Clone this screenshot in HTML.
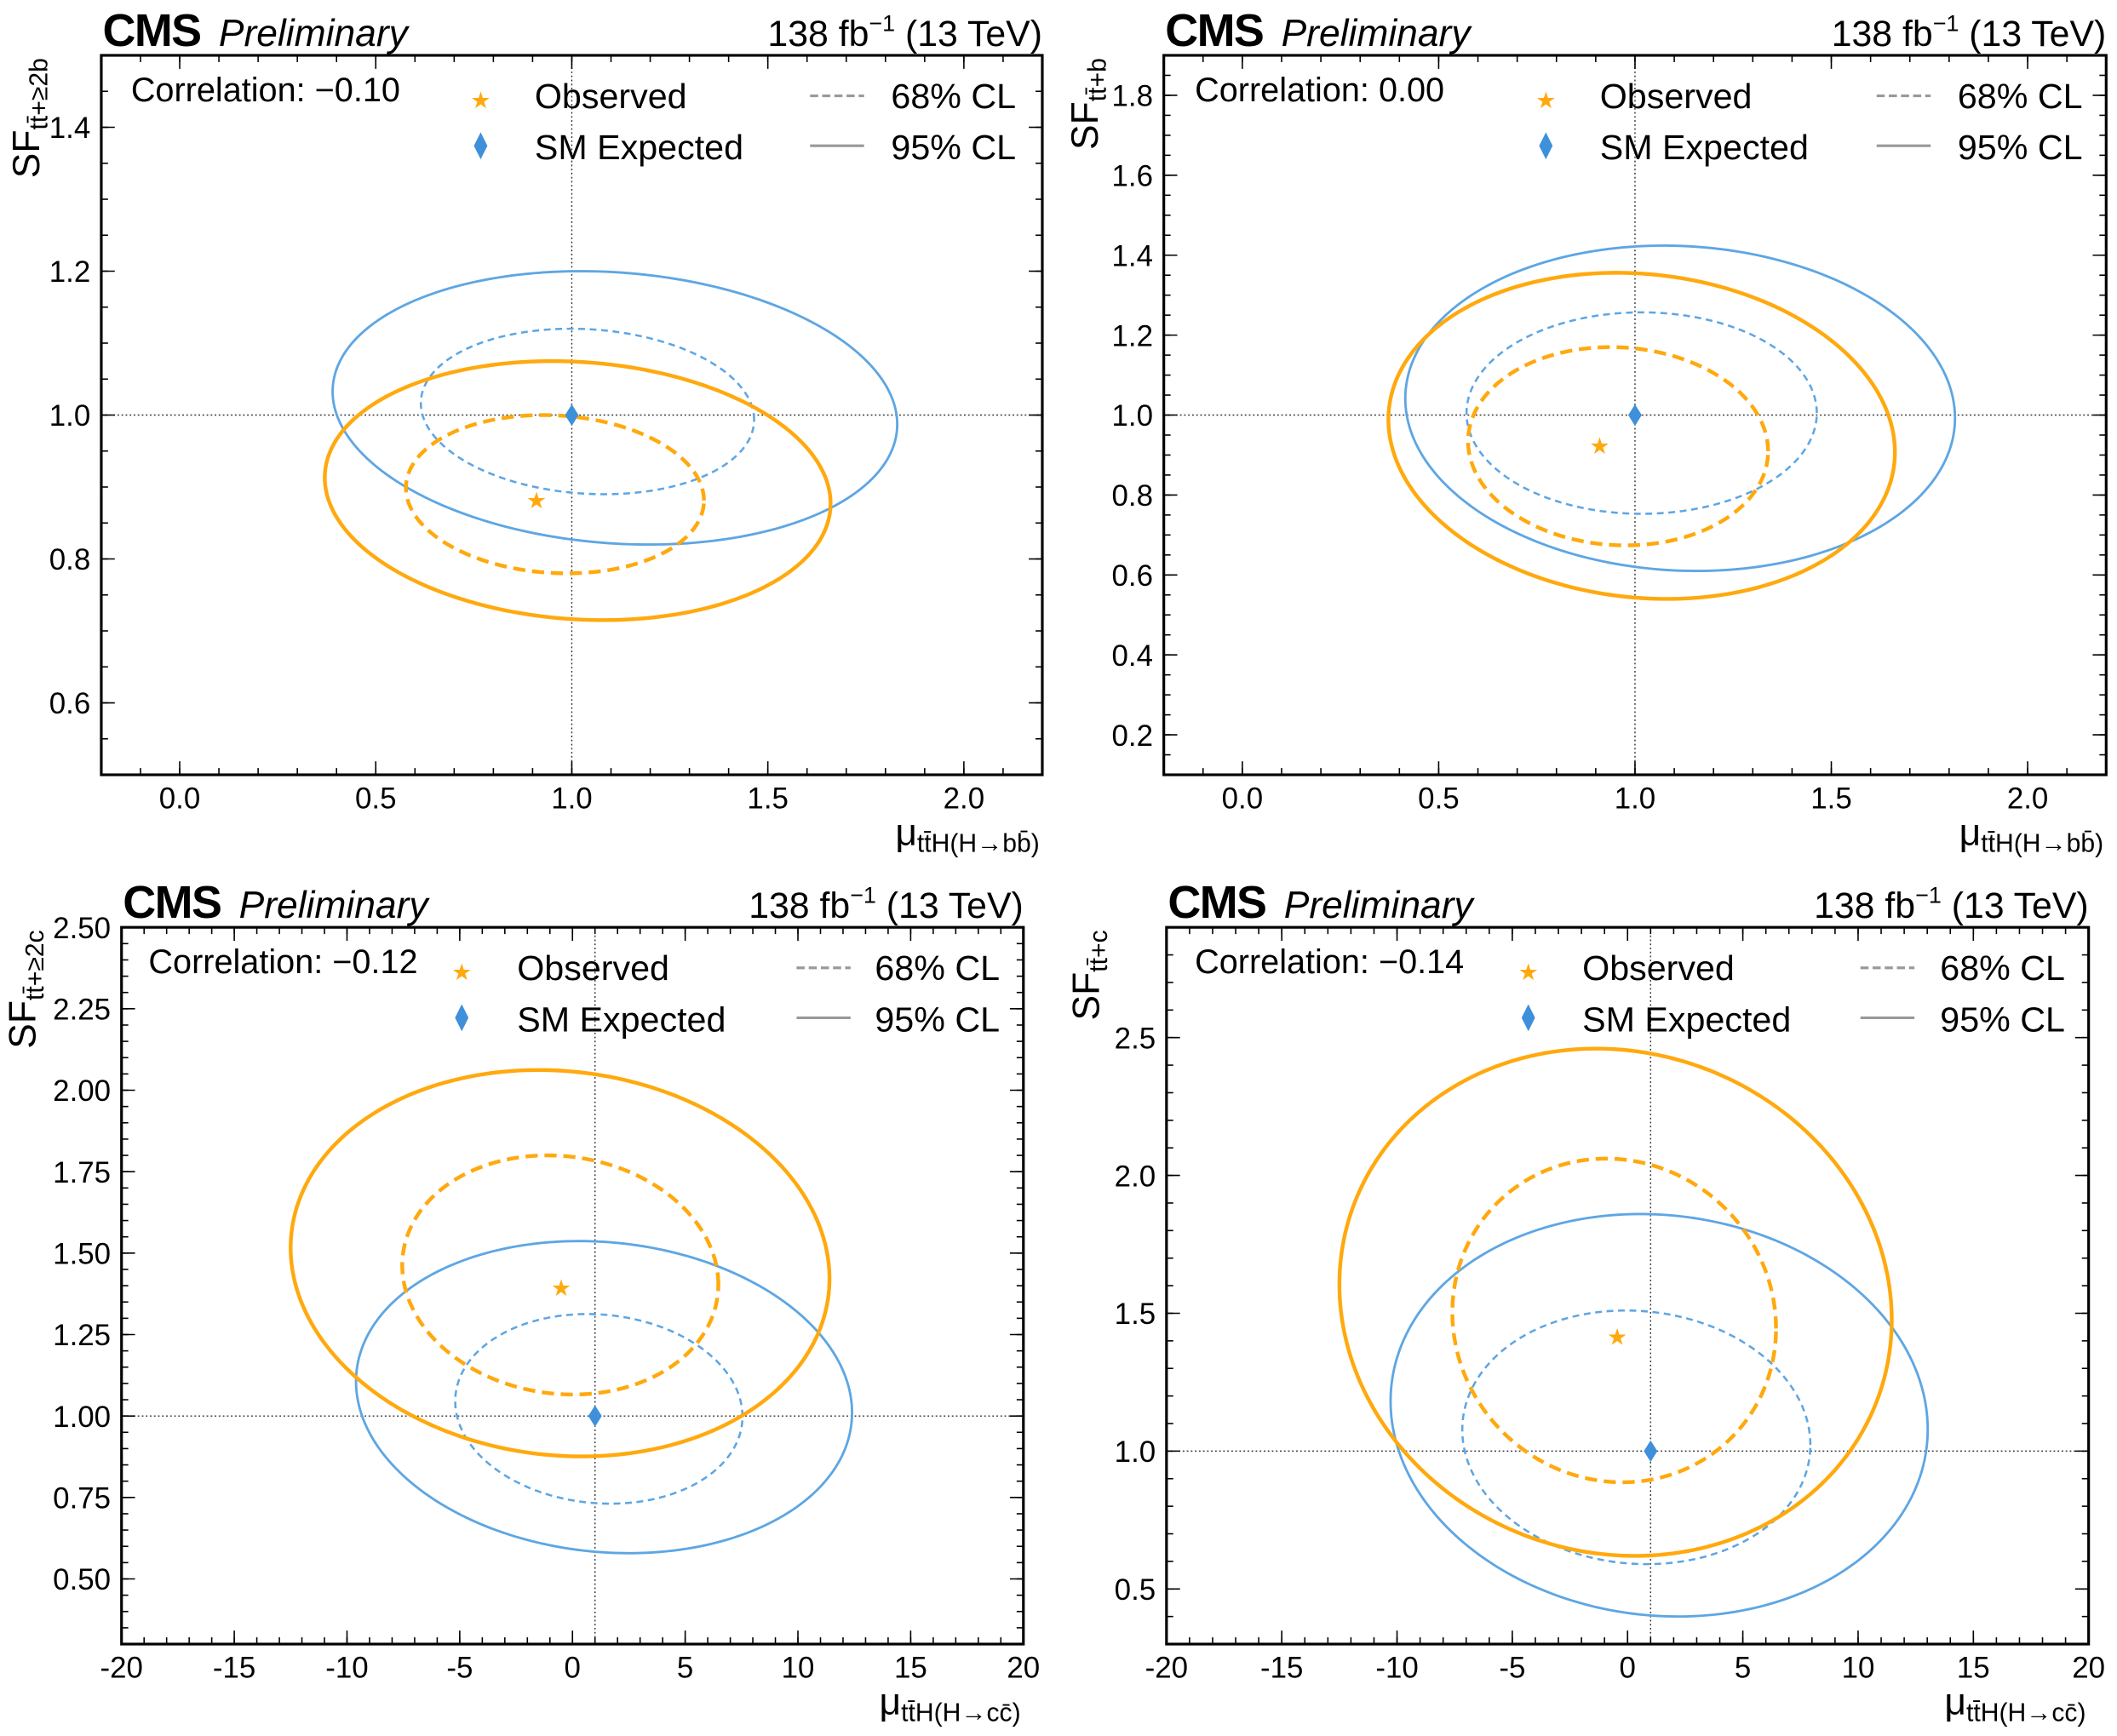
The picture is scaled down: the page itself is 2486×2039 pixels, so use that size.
<!DOCTYPE html>
<html><head><meta charset="utf-8"><style>
html,body{margin:0;padding:0;background:#fff}
svg{display:block}
text{font-family:"Liberation Sans",Arial,sans-serif;fill:#000}
</style></head><body>
<svg id="fig" width="2486" height="2039" viewBox="0 0 1568 1286.1" xmlns="http://www.w3.org/2000/svg"></svg>
<script>
// ---- data ----
const panelCorrelations = ["-0.10", "0.00", "-0.12", "-0.14"];
const panelYLabelSub = ["tt\u0304+\u22652b", "tt\u0304+b", "tt\u0304+\u22652c", "tt\u0304+c"];
const panelXLabelSub = ["tt\u0304H(H\u2192bb\u0304)", "tt\u0304H(H\u2192bb\u0304)", "tt\u0304H(H\u2192cc\u0304)", "tt\u0304H(H\u2192cc\u0304)"];
const xRanges = [[-0.2, 2.2], [-0.2, 2.2], [-20, 20], [-20, 20]];
const yRanges = [[0.5, 1.5], [0.1, 1.9], [0.3, 2.5], [0.3, 2.9]];
const xMajorTicks = [[0, 0.5, 1, 1.5, 2], [0, 0.5, 1, 1.5, 2], [-20, -15, -10, -5, 0, 5, 10, 15, 20], [-20, -15, -10, -5, 0, 5, 10, 15, 20]];
const xTickLabels = [["0.0", "0.5", "1.0", "1.5", "2.0"], ["0.0", "0.5", "1.0", "1.5", "2.0"], ["-20", "-15", "-10", "-5", "0", "5", "10", "15", "20"], ["-20", "-15", "-10", "-5", "0", "5", "10", "15", "20"]];
const xMinorStep = [0.1, 0.1, 1, 1];
const yMajorTicks = [[0.6, 0.8, 1.0, 1.2, 1.4], [0.2, 0.4, 0.6, 0.8, 1.0, 1.2, 1.4, 1.6, 1.8], [0.5, 0.75, 1.0, 1.25, 1.5, 1.75, 2.0, 2.25, 2.5], [0.5, 1.0, 1.5, 2.0, 2.5]];
const yTickLabels = [["0.6", "0.8", "1.0", "1.2", "1.4"], ["0.2", "0.4", "0.6", "0.8", "1.0", "1.2", "1.4", "1.6", "1.8"], ["0.50", "0.75", "1.00", "1.25", "1.50", "1.75", "2.00", "2.25", "2.50"], ["0.5", "1.0", "1.5", "2.0", "2.5"]];
const yMinorStep = [0.05, 0.05, 0.05, 0.1];
// contour ellipses: [cx, cy, ax, ay, rho] in data units
const obs95 = [[1.015, 0.895, 0.645, 0.18, -0.1], [1.017, 0.948, 0.645, 0.408, -0.1], [-0.55, 1.469, 11.95, 0.593, -0.08], [-0.52, 1.54, 11.98, 0.92, -0.07]];
const obs68 = [[0.957, 0.89, 0.38, 0.11, -0.08], [0.957, 0.922, 0.382, 0.248, -0.05], [-0.54, 1.433, 7.01, 0.367, -0.08], [-0.58, 1.474, 7.02, 0.587, -0.05]];
const exp95 = [[1.11, 1.01, 0.72, 0.19, -0.12], [1.115, 1.017, 0.70, 0.407, -0.06], [1.4, 1.058, 11.0, 0.479, -0.1], [1.37, 1.13, 11.65, 0.73, -0.07]];
const exp68 = [[1.04, 1.005, 0.425, 0.115, -0.1], [1.017, 1.005, 0.446, 0.252, 0.0], [1.17, 1.022, 6.37, 0.291, -0.08], [0.38, 1.05, 7.55, 0.46, -0.06]];
const observedPoints = [[0.91, 0.88], [0.91, 0.92], [-0.5, 1.39], [-0.45, 1.41]];
const expectedPoints = [[1, 1], [1, 1], [1, 1], [1, 1]];

// ---- layout (display units) ----
const frames = [{l:75,r:772,t:41,b:574},{l:862,r:1560,t:41,b:574},{l:90,r:758,t:687,b:1218},{l:864,r:1547,t:687,b:1218}];
const yTitleOff = [46, 49, 64, 50];
const legendX = [{corr:97,star:356,txt:396,line:600,cl:660},{corr:885,star:1145,txt:1185,line:1390,cl:1450},{corr:110,star:342,txt:383,line:590,cl:648},{corr:885,star:1132,txt:1172,line:1378,cl:1437}];
const ORANGE="#ffa90e", BLUE="#5ea6e3", DBLUE="#3f90da";
const NS="http://www.w3.org/2000/svg";
const svg=document.getElementById('fig');
function mk(tag,attrs,parent){const e=document.createElementNS(NS,tag);for(const k in attrs)e.setAttribute(k,attrs[k]);(parent||svg).appendChild(e);return e;}

frames.forEach((f,i)=>{
  const g=mk('g',{});
  
  
  const [x0,x1]=xRanges[i],[y0,y1]=yRanges[i];
  const X=v=>f.l+(v-x0)/(x1-x0)*(f.r-f.l);
  const Y=v=>f.b-(v-y0)/(y1-y0)*(f.b-f.t);
  const cp=mk('clipPath',{id:'clip'+i},g);mk('rect',{x:f.l,y:f.t,width:f.r-f.l,height:f.b-f.t},cp);
  const rl=mk('g',{'clip-path':'url(#clip'+i+')'},g);
  const vline=mk('line',{x1:X(1),x2:X(1),y1:f.t,y2:f.b,stroke:'#333','stroke-width':0.9,'stroke-dasharray':'1.2,1.8'},rl);
  
  
  const hline=mk('line',{x1:f.l,x2:f.r,y1:Y(1),y2:Y(1),stroke:'#333','stroke-width':0.9,'stroke-dasharray':'1.2,1.8'},rl);
  
  
  function contour(p,color,w,dash,name){
    const [cx,cy,ax,ay,rho]=p;let d='';
    for(let k=0;k<=240;k++){const t=k/240*2*Math.PI;
      const xv=cx+ax*Math.cos(t), yv=cy+ay*(rho*Math.cos(t)+Math.sqrt(1-rho*rho)*Math.sin(t));
      d+=(k?'L':'M')+X(xv).toFixed(2)+','+Y(yv).toFixed(2);}
    const a={d:d+'Z',fill:'none',stroke:color,'stroke-width':w};if(dash)a['stroke-dasharray']=dash;
    const e=mk('path',a,rl);
    
    
  }
  contour(exp95[i],BLUE,1.8,null,'expected-95-contour');
  contour(exp68[i],BLUE,1.6,'5,3.5','expected-68-contour');
  contour(obs95[i],ORANGE,2.8,null,'observed-95-contour');
  contour(obs68[i],ORANGE,2.8,'9,5','observed-68-contour');
  const [ox,oy]=observedPoints[i];
  const star=mk('text',{x:X(ox),y:Y(oy)+5,'font-size':17,'text-anchor':'middle',style:'fill:'+ORANGE},g);star.textContent='\u2605';
  
  
  const [ex,ey]=expectedPoints[i];
  const dm=mk('path',{d:`M${X(ex)},${Y(ey)-8}L${X(ex)+5},${Y(ey)}L${X(ex)},${Y(ey)+8}L${X(ex)-5},${Y(ey)}Z`,fill:DBLUE},g);
  
  
  const fr=mk('rect',{x:f.l,y:f.t,width:f.r-f.l,height:f.b-f.t,fill:'none',stroke:'#000','stroke-width':2},g);
  
  
  const tk=mk('g',{stroke:'#000','stroke-width':1},g);
  for(let v=Math.ceil(x0/xMinorStep[i]-1e-6)*xMinorStep[i];v<=x1+1e-9;v+=xMinorStep[i]){const px=X(v);
    mk('line',{x1:px,x2:px,y1:f.b,y2:f.b-5},tk);mk('line',{x1:px,x2:px,y1:f.t,y2:f.t+5},tk);}
  for(let v=Math.ceil(y0/yMinorStep[i]-1e-6)*yMinorStep[i];v<=y1+1e-9;v+=yMinorStep[i]){const py=Y(v);
    mk('line',{x1:f.l,x2:f.l+5,y1:py,y2:py},tk);mk('line',{x1:f.r,x2:f.r-5,y1:py,y2:py},tk);}
  xMajorTicks[i].forEach((v,j)=>{const px=X(v);
    mk('line',{x1:px,x2:px,y1:f.b,y2:f.b-10},tk);mk('line',{x1:px,x2:px,y1:f.t,y2:f.t+10},tk);
    const t=mk('text',{x:px,y:f.b+25,'font-size':22,'text-anchor':'middle'},g);t.textContent=xTickLabels[i][j];
    
    });
  yMajorTicks[i].forEach((v,j)=>{const py=Y(v);
    mk('line',{x1:f.l,x2:f.l+10,y1:py,y2:py},tk);mk('line',{x1:f.r,x2:f.r-10,y1:py,y2:py},tk);
    const t=mk('text',{x:f.l-8,y:py+8,'font-size':22,'text-anchor':'end'},g);t.textContent=yTickLabels[i][j];
    
    });
  const cms=mk('text',{x:f.l+1,y:f.t-7,'font-size':34,'font-weight':'bold','letter-spacing':'-1'},g);cms.textContent='CMS';
  
  
  const pre=mk('text',{x:f.l+87,y:f.t-7,'font-size':28,'font-style':'italic'},g);pre.textContent='Preliminary';
  
  
  const lumi=mk('text',{x:f.r,y:f.t-7,'font-size':27,'text-anchor':'end'},g);
  lumi.innerHTML='138 fb<tspan dy="-11" font-size="17">\u22121</tspan><tspan dy="11"> (13 TeV)</tspan>';
  
  
  const xt=mk('text',{x:f.r-2,y:f.b+52,'font-size':28,'text-anchor':'end'},g);
  xt.innerHTML='\u03bc<tspan font-size="19" dy="5">'+panelXLabelSub[i]+'</tspan>';
  
  
  const yt=mk('text',{x:0,y:0,'font-size':28,'text-anchor':'end',transform:`translate(${f.l-yTitleOff[i]},${f.t+2}) rotate(-90)`},g);
  yt.innerHTML='SF<tspan font-size="19" dy="6">'+panelYLabelSub[i]+'</tspan>';
  
  
  const L=legendX[i], by=f.t+38;
  const ct=mk('text',{x:L.corr,y:by-4,'font-size':25},g);ct.textContent='Correlation: '+panelCorrelations[i].replace('-','\u2212');
  
  
  const ls=mk('text',{x:L.star,y:by+1,'font-size':17,'text-anchor':'middle',style:'fill:'+ORANGE},g);ls.textContent='\u2605';
  
  
  const lo=mk('text',{x:L.txt,y:by+1,'font-size':26},g);lo.textContent='Observed';
  
  
  const ld=mk('path',{d:`M${L.star},${by+19}L${L.star+5},${by+29}L${L.star},${by+39}L${L.star-5},${by+29}Z`,fill:DBLUE},g);
  
  
  const le=mk('text',{x:L.txt,y:by+39,'font-size':26},g);le.textContent='SM Expected';
  
  
  const l68=mk('line',{x1:L.line,x2:L.line+40,y1:by-8,y2:by-8,stroke:'#999','stroke-width':2,'stroke-dasharray':'6,3'},g);
  
  
  const t68=mk('text',{x:L.cl,y:by+1,'font-size':26},g);t68.textContent='68% CL';
  
  
  const l95=mk('line',{x1:L.line,x2:L.line+40,y1:by+29,y2:by+29,stroke:'#999','stroke-width':2},g);
  
  
  const t95=mk('text',{x:L.cl,y:by+39,'font-size':26},g);t95.textContent='95% CL';
  
  
});
</script>
</body></html>
